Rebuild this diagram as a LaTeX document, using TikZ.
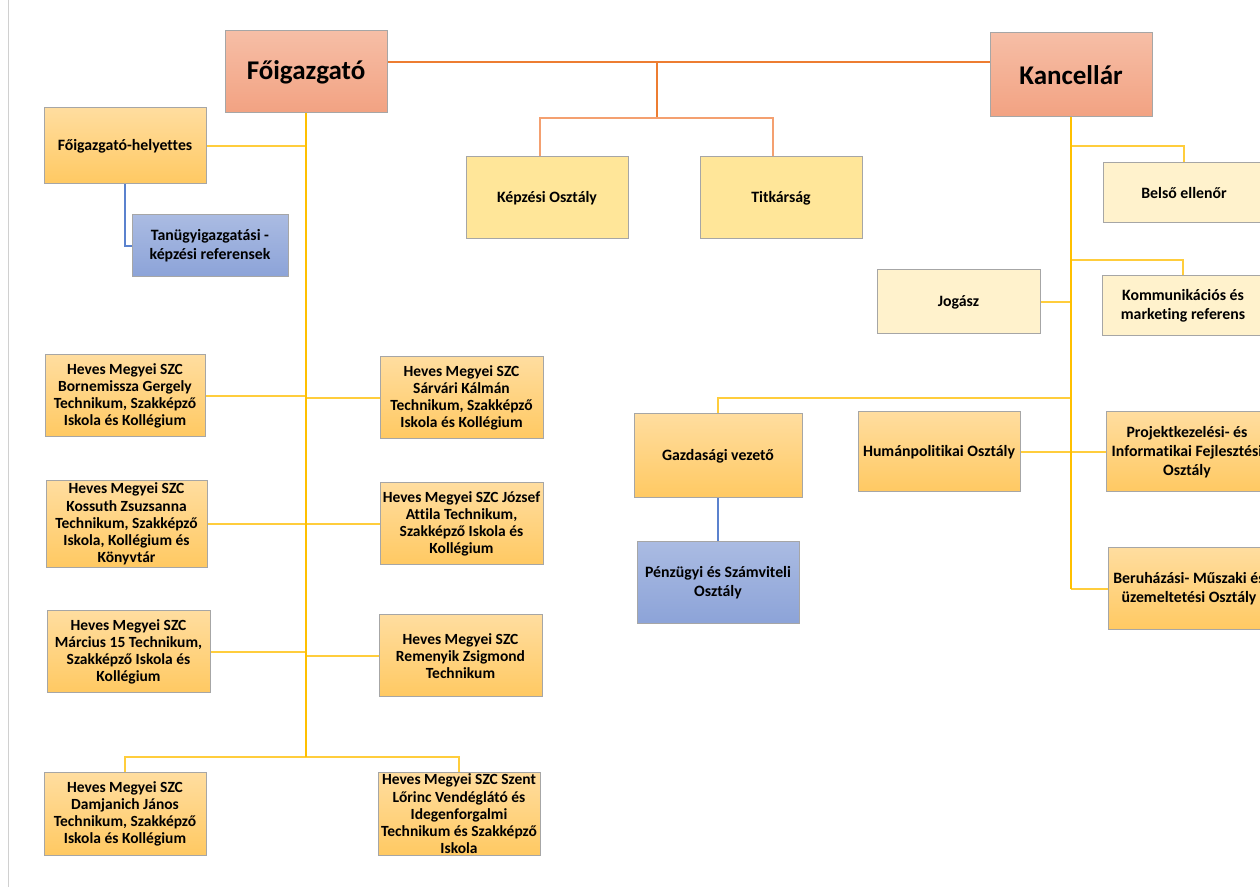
\documentclass[tikz,border=0pt]{standalone}
\usepackage{fontspec}
\setmainfont{Carlito}[Ligatures=NoCommon]
\definecolor{boxgray}{HTML}{A6A6A6}
\definecolor{salmonT}{HTML}{F6BEA6}
\definecolor{salmonB}{HTML}{F2A282}
\definecolor{goldT}{HTML}{FFDD9F}
\definecolor{goldB}{HTML}{FFC962}
\definecolor{paleY}{HTML}{FFE699}
\definecolor{cream}{HTML}{FFF2CC}
\definecolor{blueT}{HTML}{AABBE2}
\definecolor{blueB}{HTML}{8CA3D8}
\definecolor{orangeL}{HTML}{ED7D31}
\definecolor{orangeS}{HTML}{F4A070}
\definecolor{yellowL}{HTML}{FFC000}
\definecolor{yellowS}{HTML}{FFCD3C}
\definecolor{blueL}{HTML}{5B82CE}
\definecolor{edgegray}{HTML}{D0D0D0}
\begin{document}
\begin{tikzpicture}[x=0.5pt,y=-0.5pt,
  base/.style={draw=boxgray, line width=0.5pt, inner sep=1pt, align=center, text=black},
  small/.style={font=\fontsize{7.75}{8.6}\selectfont\bfseries},
  medium/.style={font=\fontsize{7.9}{9.4}\selectfont\bfseries},
  titlebox/.style={base, top color=salmonT, bottom color=salmonB, font=\fontsize{13.5}{16}\selectfont\bfseries},
  goldbox/.style={base, top color=goldT, bottom color=goldB},
  palebox/.style={base, fill=paleY, medium},
  creambox/.style={base, fill=cream, medium},
  bluebox/.style={base, top color=blueT, bottom color=blueB, medium},
  sz/.style 2 args={minimum width=#1*0.5pt, minimum height=#2*0.5pt},
  orangetop/.style={draw=orangeL, line width=1.2pt},
  orangesub/.style={draw=orangeS, line width=0.9pt},
  ytrunk/.style={draw=yellowL, line width=1.2pt},
  ybranch/.style={draw=yellowS, line width=1pt},
  bline/.style={draw=blueL, line width=0.7pt}
]
\useasboundingbox (0,0) rectangle (1260,887);
\clip (0,0) rectangle (1260,887);
\fill[white] (0,0) rectangle (1260,887);
\draw[edgegray, line width=0.5pt] (8,0) -- (8,887);

% top level
\node[titlebox, sz={162}{82}] (fo) at (306,72) {Főigazgató};
\node[titlebox, sz={162}{84}] (kan) at (1071,75) {Kancellár};
\node[palebox, sz={162}{82}] (kepz) at (547,198) {Képzési Osztály};
\node[palebox, sz={162}{82}] (titk) at (781,198) {Titkárság};

% left side
\node[goldbox, medium, sz={162}{76}] (fh) at (125,146) {Főigazgató-helyettes};
\node[bluebox, sz={156}{62}] (tan) at (210,246) {Tanügyigazgatási -\\képzési referensek};
\node[goldbox, small, sz={160}{82}] (born) at (125,396) {Heves Megyei SZC\\Bornemissza Gergely\\Technikum, Szakképző\\Iskola és Kollégium};
\node[goldbox, small, sz={163}{82}] (sarv) at (461.5,398) {Heves Megyei SZC\\Sárvári Kálmán\\Technikum, Szakképző\\Iskola és Kollégium};
\node[goldbox, small, sz={161}{82}] (koss) at (126.5,524) {Heves Megyei SZC\\Kossuth Zsuzsanna\\Technikum, Szakképző\\Iskola, Kollégium és\\Könyvtár};
\node[goldbox, small, sz={163}{82}] (jozs) at (461.5,524) {Heves Megyei SZC József\\Attila Technikum,\\Szakképző Iskola és\\Kollégium};
\node[goldbox, small, sz={163}{82}] (marc) at (128.5,652) {Heves Megyei SZC\\Március 15 Technikum,\\Szakképző Iskola és\\Kollégium};
\node[goldbox, small, sz={163}{82}] (rem) at (460.5,656) {Heves Megyei SZC\\Remenyik Zsigmond\\Technikum};
\node[goldbox, small, sz={162}{82}] (dam) at (125,814) {Heves Megyei SZC\\Damjanich János\\Technikum, Szakképző\\Iskola és Kollégium};
\node[goldbox, small, sz={162}{82}] (szent) at (459,814) {Heves Megyei SZC Szent\\Lőrinc Vendéglátó és\\Idegenforgalmi\\Technikum és Szakképző\\Iskola};

% right side
\node[creambox, sz={162}{60}] (bels) at (1184,193) {Belső ellenőr};
\node[creambox, sz={163}{64}] (jog) at (958.5,302) {Jogász};
\node[creambox, sz={162}{60}] (komm) at (1183,306) {Kommunikációs és\\marketing referens};
\node[goldbox, medium, sz={168}{84}] (gazd) at (718,456) {Gazdasági vezető};
\node[goldbox, medium, sz={162}{80}] (hum) at (939,452) {Humánpolitikai Osztály};
\node[goldbox, medium, sz={162}{80}] (proj) at (1187,452) {Projektkezelési- és\\Informatikai Fejlesztési\\Osztály};
\node[goldbox, medium, sz={162}{82}] (ber) at (1189,589) {Beruházási- Műszaki és\\üzemeltetési Osztály};
\node[bluebox, sz={162}{82}] (penz) at (718,583) {Pénzügyi és Számviteli\\Osztály};

% junction coordinates
\coordinate (t1) at (657,62);
\coordinate (t2) at (657,118);
\coordinate (jx1) at (540,0);
\coordinate (jx2) at (773,0);
\coordinate (b1) at (306,757);
\coordinate (k1) at (1071,146);
\coordinate (k2) at (1071,260);
\coordinate (k3) at (1071,398);

% orange connectors
\draw[orangetop] (fo.east |- t1) -- (kan.west |- t1);
\draw[orangetop] (t1) -- (t2);
\draw[orangesub] (kepz.north -| jx1) -- (jx1 |- t2) -- (jx2 |- t2) -- (titk.north -| jx2);

% left trunk
\draw[ybranch] (fh.east) -- (fo.south |- fh.east);
\draw[ybranch] (born.east) -- (fo.south |- born.east);
\draw[ybranch] (fo.south |- sarv.west) -- (sarv.west);
\draw[ybranch] (koss.east) -- (fo.south |- koss.east);
\draw[ybranch] (fo.south |- jozs.west) -- (jozs.west);
\draw[ybranch] (marc.east) -- (fo.south |- marc.east);
\draw[ybranch] (fo.south |- rem.west) -- (rem.west);
\draw[ybranch] (dam.north) -- (dam.north |- b1) -- (szent.north |- b1) -- (szent.north);
\draw[ytrunk] (fo.south) -- (b1);
\draw[bline] (fh.south) -- (fh.south |- tan.west) -- (tan.west);

% right trunk
\draw[ybranch] (k1) -- (bels.north |- k1) -- (bels.north);
\draw[ybranch] (k2) -- (komm.north |- k2) -- (komm.north);
\draw[ybranch] (jog.east) -- (kan.south |- jog.east);
\draw[ybranch] (k3) -- (gazd.north |- k3) -- (gazd.north);
\draw[ybranch] (hum.east) -- (proj.west);
\draw[ybranch] (kan.south |- ber.west) -- (ber.west);
\draw[ytrunk] (kan.south) -- (kan.south |- ber.west);
\draw[bline] (gazd.south) -- (penz.north);
\end{tikzpicture}
\end{document}
